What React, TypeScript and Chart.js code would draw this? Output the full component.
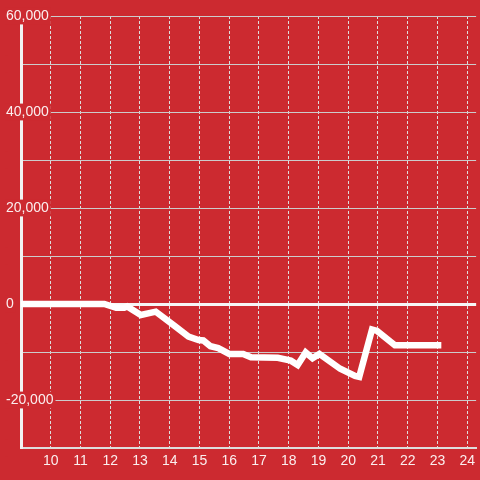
import React, { useEffect, useRef } from "react";
import { Chart, registerables } from "chart.js";

Chart.register(...registerables);

const hours = [9, 11.8, 12.2, 12.47, 12.57, 13.03, 13.53, 14.13, 14.63, 14.97, 15.13, 15.37, 15.63, 16.0, 16.47, 16.73, 17.63, 18.07, 18.3, 18.57, 18.8, 19.03, 19.73, 20.23, 20.37, 20.8, 20.97, 21.57, 23.13];
const values = [0, 0, -800, -800, -500, -2300, -1600, -4400, -6800, -7500, -7600, -8800, -9200, -10400, -10400, -11100, -11200, -11800, -12700, -10100, -11300, -10400, -13500, -15000, -15200, -5300, -5600, -8600, -8600];
const xTicks = [10, 11, 12, 13, 14, 15, 16, 17, 18, 19, 20, 21, 22, 23, 24];
const yLabelled = [60000, 40000, 20000, 0, -20000];

const RED = "#cc2a30";
const FONT = { family: "'Liberation Sans', Arial, sans-serif", size: 14 };

export default function App() {
  const ref = useRef<HTMLCanvasElement>(null);
  useEffect(() => {
    const chart = new Chart(ref.current!, {
      type: "line",
      data: {
        datasets: [
          {
            data: hours.map((h, i) => ({ x: h, y: values[i] })),
            borderColor: "#ffffff",
            borderWidth: 6.5,
            pointRadius: 0,
            tension: 0,
            fill: false,
          },
        ],
      },
      options: {
        animation: false,
        responsive: false,
        layout: { padding: { top: 16, left: 0, right: 0, bottom: 0 } },
        plugins: { legend: { display: false }, tooltip: { enabled: false } },
        scales: {
          x: {
            type: "linear",
            min: 9,
            max: 24.3,
            afterFit: (s: any) => { s.height = 32; },
            afterBuildTicks: (s: any) => { s.ticks = xTicks.map((v) => ({ value: v })); },
            ticks: { color: "rgba(255,255,255,0.92)", font: FONT, padding: 5, includeBounds: false },
            grid: { color: "#dddddd", lineWidth: 1, drawTicks: false },
            border: { color: "#dddddd", width: 2, dash: [3, 2] } as any,
          },
          y: {
            type: "linear",
            min: -30000,
            max: 60000,
            afterFit: (s: any) => { s.width = 21; },
            ticks: {
              stepSize: 10000,
              mirror: true,
              padding: -15,
              color: "rgba(255,255,255,0.92)",
              font: FONT,
              showLabelBackdrop: true,
              backdropColor: RED,
              backdropPadding: { top: 0, bottom: 0, left: 1, right: 2 },
              callback: (v: any) => (yLabelled.includes(Number(v)) ? Number(v).toLocaleString("en-US") : ""),
            } as any,
            grid: {
              drawTicks: false,
              color: (c: any) => (c.tick && c.tick.value === 0 ? "#f6f6f6" : "#cccccc"),
              lineWidth: (c: any) => (c.tick && c.tick.value === 0 ? 3 : 1),
            },
            border: { color: "#f2f2f2", width: 3 },
          },
        },
      },
      plugins: [
        {
          id: "bg",
          beforeDraw: (c: any) => {
            const ctx = c.ctx;
            ctx.save();
            ctx.fillStyle = RED;
            ctx.fillRect(0, 0, c.width, c.height);
            ctx.restore();
          },
        },
      ],
    });
    return () => chart.destroy();
  }, []);
  return (
    <div style={{ position: "fixed", left: 0, top: 0, width: 480, height: 480, background: RED }}>
      <canvas ref={ref} width={480} height={480} style={{ display: "block" }} />
    </div>
  );
}
